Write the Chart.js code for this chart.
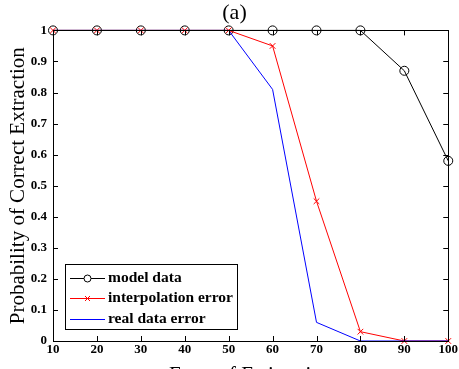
<!DOCTYPE html>
<html>
<head>
<meta charset="utf-8">
<script src="https://cdn.jsdelivr.net/npm/chart.js@4"></script>
<style>
  html, body { margin: 0; padding: 0; background: #fff; overflow: hidden; }
  .chart-container { width: 459px; height: 393px; }
</style>
</head>
<body>
<div class="chart-container">
  <canvas id="chart"></canvas>
</div>
<script>
const snr = [10, 20, 30, 40, 50, 60, 70, 80, 90, 100];
const modelData = [1, 1, 1, 1, 1, 1, 1, 1, 0.87, 0.58];
const interpError = [1, 1, 1, 1, 1, 0.95, 0.45, 0.03, 0, 0];
const realError = [1, 1, 1, 1, 1, 0.81, 0.06, 0, 0, 0];
const xTicks = [10, 20, 30, 40, 50, 60, 70, 80, 90, 100];
const yTicks = [0, 0.1, 0.2, 0.3, 0.4, 0.5, 0.6, 0.7, 0.8, 0.9, 1];
const yTickLabels = ['0', '0.1', '0.2', '0.3', '0.4', '0.5', '0.6', '0.7', '0.8', '0.9', '1'];

const serif = '"Liberation Serif", "Times New Roman", serif';

const toPoints = vals => vals.map((v, i) => ({ x: snr[i], y: v }));

// box round the plot with inward ticks, matlab style
const boxPlugin = {
  id: 'box',
  afterDatasetsDraw(chart) {
    const { ctx, chartArea: a, scales } = chart;
    const t = 5;
    ctx.save();
    ctx.strokeStyle = '#000';
    ctx.lineWidth = 1;
    ctx.strokeRect(Math.round(a.left) + 0.5, Math.round(a.top) + 0.5,
      Math.round(a.right - a.left), Math.round(a.bottom - a.top));
    ctx.beginPath();
    xTicks.forEach(v => {
      const px = Math.round(scales.x.getPixelForValue(v)) + 0.5;
      ctx.moveTo(px, a.bottom); ctx.lineTo(px, a.bottom - t);
      ctx.moveTo(px, a.top); ctx.lineTo(px, a.top + t);
    });
    yTicks.forEach(v => {
      const py = Math.round(scales.y.getPixelForValue(v)) + 0.5;
      ctx.moveTo(a.left, py); ctx.lineTo(a.left + t, py);
      ctx.moveTo(a.right, py); ctx.lineTo(a.right - t, py);
    });
    ctx.stroke();
    ctx.restore();
  }
};

// legend inside the plot, bottom left
const legendPlugin = {
  id: 'boxLegend',
  afterDraw(chart) {
    const { ctx } = chart;
    const x0 = 65, y0 = 264, w = 172, h = 65;
    ctx.save();
    ctx.fillStyle = '#fff';
    ctx.fillRect(x0, y0, w, h);
    ctx.strokeStyle = '#000';
    ctx.lineWidth = 1;
    ctx.strokeRect(x0 + 0.5, y0 + 0.5, w, h);
    ctx.font = 'bold 15.5px ' + serif;
    ctx.textBaseline = 'middle';
    const rows = [
      { text: 'model data', color: '#000', marker: 'circle', y: 278 },
      { text: 'interpolation error', color: '#ff0000', marker: 'cross', y: 298 },
      { text: 'real data error', color: '#0000ff', marker: null, y: 319 }
    ];
    rows.forEach(r => {
      ctx.strokeStyle = r.color;
      ctx.beginPath();
      ctx.moveTo(70, r.y + 0.5); ctx.lineTo(105, r.y + 0.5);
      ctx.stroke();
      if (r.marker === 'circle') {
        ctx.beginPath();
        ctx.arc(87.5, r.y + 0.5, 3.5, 0, Math.PI * 2);
        ctx.fillStyle = '#fff';
        ctx.fill();
        ctx.stroke();
      } else if (r.marker === 'cross') {
        ctx.beginPath();
        ctx.moveTo(85, r.y - 2); ctx.lineTo(90, r.y + 3);
        ctx.moveTo(90, r.y - 2); ctx.lineTo(85, r.y + 3);
        ctx.stroke();
      }
      ctx.fillStyle = '#000';
      ctx.fillText(r.text, 108, r.y);
    });
    ctx.restore();
  }
};

new Chart(document.getElementById('chart').getContext('2d'), {
  type: 'line',
  data: {
    datasets: [
      {
        label: 'model data',
        data: toPoints(modelData),
        borderColor: '#000',
        borderWidth: 1,
        pointStyle: 'circle',
        pointRadius: 4.5,
        pointBorderColor: '#000',
        pointBackgroundColor: 'rgba(0,0,0,0)',
        pointBorderWidth: 1,
        order: 3,
        clip: false
      },
      {
        label: 'interpolation error',
        data: toPoints(interpError),
        borderColor: '#ff0000',
        borderWidth: 1,
        pointStyle: 'crossRot',
        pointRadius: 4,
        pointBorderColor: '#ff0000',
        pointBorderWidth: 1,
        order: 2,
        clip: false
      },
      {
        label: 'real data error',
        data: toPoints(realError),
        borderColor: '#0000ff',
        borderWidth: 1,
        pointRadius: 0,
        order: 1,
        clip: false
      }
    ]
  },
  options: {
    responsive: true,
    maintainAspectRatio: false,
    animation: false,
    layout: { padding: { left: 20, right: 10, top: 0, bottom: 0 } },
    plugins: {
      legend: { display: false },
      tooltip: { enabled: false },
      title: {
        display: true,
        text: '(a)',
        color: '#000',
        font: { family: serif, size: 22, weight: 'normal' },
        lineHeight: 1.2,
        padding: { top: 0, bottom: 4 }
      }
    },
    scales: {
      x: {
        type: 'linear',
        min: 10,
        max: 100,
        afterBuildTicks: scale => { scale.ticks = xTicks.map(v => ({ value: v })); },
        afterFit: scale => { scale.height = 52; },
        grid: { display: false, drawTicks: false },
        border: { display: false },
        ticks: {
          color: '#000',
          padding: 1,
          maxRotation: 0,
          font: { family: serif, size: 13, weight: 'bold' },
          callback: v => String(v)
        },
        title: {
          display: true,
          text: 'Error of Estimation',
          color: '#000',
          font: { family: serif, size: 21, weight: 'normal' },
          padding: { top: 0, bottom: 5 }
        }
      },
      y: {
        min: 0,
        max: 1,
        afterBuildTicks: scale => { scale.ticks = yTicks.map(v => ({ value: v })); },
        afterFit: scale => { scale.width = 33; },
        grid: { display: false, drawTicks: false },
        border: { display: false },
        ticks: {
          color: '#000',
          padding: 6,
          font: { family: serif, size: 13, weight: 'bold' },
          callback: (v, i) => yTickLabels[i]
        },
        title: {
          display: true,
          text: 'Probability of Correct Extraction',
          color: '#000',
          font: { family: serif, size: 21, weight: 'normal' },
          padding: { top: -14, bottom: 0 }
        }
      }
    }
  },
  plugins: [boxPlugin, legendPlugin]
});
</script>
</body>
</html>
